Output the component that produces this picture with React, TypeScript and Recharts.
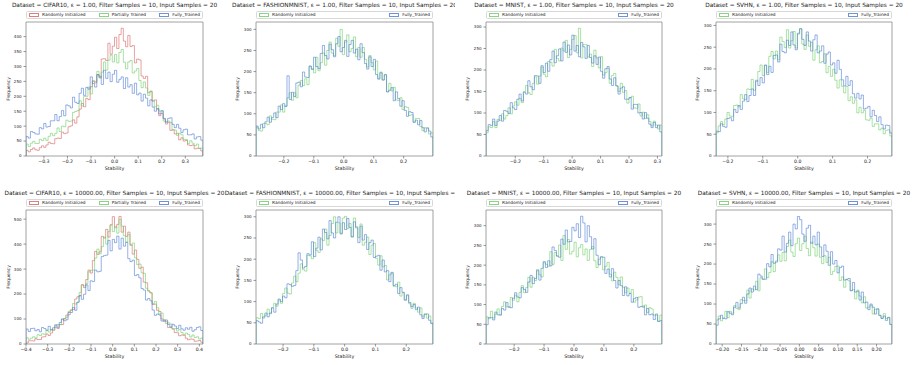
import React from "react";
import { LineChart, Line, XAxis, YAxis, ReferenceArea } from "recharts";

const FONT = "'DejaVu Sans', sans-serif";
const RED = "#d65f5f";
const GREEN = "#6acc64";
const BLUE = "#4878d0";

const NAMES = ["Randomly Initialized", "Partially Trained", "Fully_Trained"];

// bin counts, 80 equal bins spanning each subplot's x range
const cifarE1Random = [
  19, 14, 22, 27, 21, 19, 28, 34, 29, 37,
  46, 42, 41, 58, 60, 59, 80, 75, 77, 98,
  101, 121, 110, 131, 157, 176, 165, 193, 189, 232,
  252, 245, 272, 262, 325, 326, 320, 378, 341, 368,
  398, 360, 407, 428, 385, 366, 404, 367, 370, 312,
  325, 322, 268, 260, 267, 212, 216, 184, 188, 157,
  135, 143, 124, 107, 113, 86, 88, 74, 76, 54,
  61, 50, 52, 37, 35, 37, 24, 26, 25, 17,
];
const cifarE1Partial = [
  40, 32, 43, 49, 42, 42, 56, 52, 60, 52,
  66, 76, 68, 76, 94, 82, 100, 98, 120, 116,
  117, 146, 149, 152, 185, 168, 199, 200, 231, 208,
  250, 250, 284, 262, 281, 315, 288, 321, 338, 315,
  340, 312, 347, 357, 314, 292, 315, 320, 278, 285,
  293, 253, 229, 248, 228, 203, 218, 185, 165, 170,
  151, 152, 117, 116, 117, 112, 87, 87, 69, 76,
  71, 56, 55, 42, 51, 43, 34, 40, 26, 27,
];
const cifarE1Trained = [
  65, 60, 82, 79, 74, 73, 95, 91, 109, 97,
  99, 118, 118, 139, 118, 132, 152, 135, 171, 168,
  161, 197, 180, 176, 210, 227, 203, 230, 224, 265,
  243, 231, 273, 267, 240, 287, 260, 281, 249, 274,
  287, 247, 257, 265, 226, 262, 231, 239, 210, 244,
  205, 211, 184, 207, 194, 168, 188, 164, 150, 159,
  141, 151, 126, 113, 126, 128, 106, 95, 106, 93,
  79, 88, 90, 71, 71, 74, 57, 64, 65, 53,
];

const fashionE1Random = [
  68, 60, 59, 77, 77, 74, 95, 87, 86, 104,
  104, 121, 104, 119, 138, 150, 132, 150, 138, 168,
  179, 167, 183, 169, 213, 207, 197, 234, 202, 221,
  244, 215, 250, 270, 244, 238, 279, 260, 300, 240,
  270, 287, 247, 255, 282, 235, 257, 234, 257, 229,
  211, 238, 221, 204, 225, 184, 199, 180, 192, 152,
  172, 154, 163, 133, 131, 138, 110, 117, 115, 96,
  98, 80, 89, 89, 70, 60, 67, 67, 52, 55,
];
const fashionE1Trained = [
  71, 64, 75, 67, 81, 92, 80, 91, 102, 91,
  118, 110, 124, 117, 190, 134, 151, 141, 173, 175,
  164, 199, 187, 186, 213, 205, 234, 212, 207, 243,
  262, 238, 230, 265, 252, 235, 266, 283, 247, 257,
  274, 236, 264, 274, 244, 253, 228, 266, 245, 219,
  206, 235, 212, 229, 193, 182, 197, 180, 193, 152,
  156, 162, 131, 152, 136, 118, 131, 108, 94, 105,
  103, 80, 85, 74, 84, 67, 57, 66, 59, 45,
];

const mnistE1Random = [
  54, 68, 66, 80, 66, 85, 83, 98, 86, 94,
  112, 98, 116, 126, 118, 134, 124, 150, 164, 147,
  143, 169, 184, 167, 186, 207, 190, 184, 220, 218,
  209, 248, 227, 221, 251, 244, 269, 229, 248, 271,
  280, 240, 297, 228, 259, 259, 230, 237, 208, 246,
  228, 205, 231, 188, 194, 204, 169, 187, 192, 163,
  150, 169, 148, 152, 123, 135, 139, 112, 111, 121,
  93, 102, 87, 96, 80, 70, 81, 72, 63, 72,
];
const mnistE1Trained = [
  59, 73, 71, 86, 71, 81, 94, 81, 106, 104,
  99, 124, 112, 108, 132, 144, 128, 148, 144, 175,
  161, 154, 187, 186, 169, 210, 194, 216, 197, 224,
  244, 217, 233, 249, 221, 265, 241, 258, 235, 281,
  244, 257, 231, 264, 254, 227, 257, 229, 216, 233,
  213, 230, 197, 181, 203, 208, 179, 164, 182, 163,
  144, 158, 161, 132, 132, 136, 109, 120, 120, 100,
  101, 86, 101, 88, 74, 66, 78, 66, 72, 56,
];

const svhnE1Random = [
  53, 69, 79, 72, 85, 100, 92, 91, 116, 117,
  113, 141, 131, 130, 154, 153, 176, 151, 171, 194,
  209, 185, 208, 192, 229, 240, 223, 241, 221, 273,
  263, 249, 290, 248, 265, 286, 248, 280, 293, 257,
  245, 278, 252, 261, 220, 244, 253, 214, 217, 235,
  191, 206, 183, 199, 174, 156, 175, 160, 145, 160,
  127, 136, 121, 129, 99, 112, 99, 105, 83, 82,
  87, 68, 74, 74, 60, 64, 51, 59, 60, 46,
];
const svhnE1Trained = [
  57, 56, 74, 68, 66, 86, 88, 81, 107, 100,
  116, 107, 126, 141, 125, 139, 154, 139, 174, 162,
  180, 168, 209, 187, 206, 192, 231, 232, 216, 257,
  240, 237, 266, 254, 285, 255, 244, 282, 292, 268,
  254, 285, 264, 241, 267, 278, 237, 241, 253, 213,
  234, 239, 209, 214, 190, 220, 199, 175, 161, 183,
  162, 173, 143, 133, 144, 131, 140, 108, 110, 114,
  90, 105, 93, 79, 90, 72, 62, 71, 70, 53,
];

const cifarE4Random = [
  4, 13, 13, 12, 21, 18, 18, 28, 29, 40,
  34, 44, 56, 67, 62, 78, 78, 102, 116, 117,
  137, 138, 180, 189, 194, 238, 226, 258, 296, 284,
  334, 371, 359, 369, 431, 424, 459, 428, 477, 510,
  465, 479, 511, 448, 472, 431, 448, 397, 360, 376,
  339, 303, 308, 248, 245, 212, 205, 158, 160, 135,
  130, 100, 91, 89, 66, 66, 60, 46, 45, 33,
  36, 35, 23, 17, 20, 19, 11, 12, 14, 7,
];
const cifarE4Partial = [
  25, 19, 23, 29, 24, 37, 34, 41, 39, 55,
  48, 58, 55, 73, 78, 77, 100, 100, 107, 130,
  134, 162, 160, 168, 206, 235, 233, 243, 289, 295,
  296, 344, 380, 361, 390, 428, 400, 450, 477, 450,
  471, 444, 500, 472, 433, 408, 439, 395, 404, 345,
  318, 320, 285, 283, 223, 213, 205, 162, 170, 145,
  120, 124, 98, 82, 85, 80, 61, 62, 52, 58,
  46, 37, 44, 38, 28, 36, 26, 29, 20, 24,
];
const cifarE4Trained = [
  60, 50, 62, 63, 53, 58, 49, 66, 62, 55,
  71, 56, 65, 77, 67, 86, 100, 93, 97, 126,
  126, 146, 135, 167, 193, 179, 199, 237, 214, 253,
  250, 296, 289, 291, 350, 354, 356, 415, 373, 419,
  406, 432, 380, 424, 392, 407, 342, 330, 336, 274,
  278, 265, 222, 216, 176, 182, 173, 136, 115, 120,
  116, 92, 93, 96, 78, 68, 79, 72, 62, 75,
  61, 55, 65, 59, 67, 51, 57, 66, 69, 54,
];

const fashionE4Random = [
  62, 60, 72, 61, 68, 82, 71, 86, 96, 89,
  104, 96, 119, 132, 120, 118, 144, 160, 147, 167,
  189, 175, 172, 209, 208, 201, 239, 221, 216, 248,
  244, 271, 233, 256, 284, 300, 262, 286, 259, 297,
  301, 272, 284, 252, 297, 277, 251, 283, 233, 240,
  252, 211, 233, 237, 202, 186, 208, 182, 185, 151,
  163, 167, 136, 135, 146, 113, 121, 105, 114, 95,
  84, 96, 85, 75, 85, 64, 71, 61, 66, 48,
];
const fashionE4Trained = [
  55, 52, 49, 64, 73, 64, 73, 85, 75, 94,
  106, 100, 113, 109, 142, 140, 136, 138, 173, 215,
  198, 179, 183, 213, 210, 241, 206, 226, 252, 222,
  271, 263, 248, 291, 262, 250, 287, 300, 261, 286,
  270, 296, 275, 253, 288, 274, 239, 278, 245, 258,
  223, 239, 245, 204, 207, 209, 174, 198, 170, 173,
  147, 169, 138, 141, 119, 133, 122, 103, 116, 98,
  88, 93, 81, 87, 69, 60, 70, 71, 56, 49,
];

const mnistE4Random = [
  69, 64, 83, 66, 76, 89, 75, 95, 107, 94,
  93, 118, 111, 124, 107, 131, 148, 130, 143, 169,
  144, 169, 161, 189, 176, 170, 206, 202, 197, 234,
  202, 232, 223, 251, 212, 275, 240, 265, 228, 235,
  258, 221, 244, 252, 226, 241, 212, 240, 247, 211,
  194, 215, 221, 188, 197, 207, 177, 160, 182, 169,
  150, 170, 144, 130, 142, 129, 138, 106, 112, 119,
  120, 93, 99, 80, 92, 89, 73, 73, 58, 73,
];
const mnistE4Trained = [
  49, 67, 67, 61, 81, 74, 73, 90, 86, 105,
  94, 92, 116, 130, 119, 117, 143, 138, 131, 157,
  174, 153, 166, 186, 162, 192, 209, 194, 211, 198,
  246, 237, 223, 220, 266, 253, 289, 259, 260, 296,
  287, 305, 270, 324, 307, 259, 300, 272, 241, 267,
  225, 201, 221, 220, 179, 190, 170, 191, 161, 142,
  161, 148, 123, 145, 122, 128, 106, 115, 118, 93,
  95, 96, 74, 90, 74, 76, 62, 76, 57, 59,
];

const svhnE4Random = [
  60, 70, 58, 65, 82, 66, 82, 77, 96, 89,
  86, 111, 109, 108, 135, 115, 138, 135, 157, 133,
  166, 162, 188, 166, 179, 206, 181, 208, 223, 207,
  229, 208, 244, 260, 230, 219, 251, 265, 234, 251,
  270, 239, 221, 255, 241, 220, 250, 217, 201, 221,
  204, 217, 174, 182, 194, 195, 159, 168, 142, 161,
  158, 134, 136, 113, 135, 120, 103, 118, 90, 92,
  97, 75, 87, 89, 71, 64, 76, 64, 67, 49,
];
const svhnE4Trained = [
  47, 63, 72, 64, 63, 81, 77, 73, 92, 104,
  90, 101, 117, 102, 125, 140, 130, 145, 136, 175,
  170, 162, 162, 201, 193, 224, 202, 205, 238, 235,
  270, 230, 252, 280, 246, 300, 288, 319, 311, 275,
  257, 290, 297, 252, 270, 248, 280, 243, 219, 248,
  232, 197, 231, 200, 209, 178, 191, 195, 160, 162,
  164, 133, 154, 130, 132, 110, 130, 103, 105, 86,
  100, 92, 75, 87, 72, 64, 70, 59, 66, 49,
];

// axis ticks
const xTicksCifarE1 = [-0.3, -0.2, -0.1, 0, 0.1, 0.2, 0.3];
const xTicksMid = [-0.2, -0.1, 0, 0.1, 0.2];
const xTicksMnistE1 = [-0.2, -0.1, 0, 0.1, 0.2, 0.3];
const xTicksCifarE4 = [-0.4, -0.3, -0.2, -0.1, 0, 0.1, 0.2, 0.3, 0.4];
const xTicksSvhnE4 = [-0.2, -0.15, -0.1, -0.05, 0, 0.05, 0.1, 0.15, 0.2];
const yTicks400 = [0, 50, 100, 150, 200, 250, 300, 350, 400];
const yTicks300 = [0, 50, 100, 150, 200, 250, 300];
const yTicks500 = [0, 100, 200, 300, 400, 500];

const BOX_X = [0, 226, 455, 685, 917];
const PLOT_X = [
  [26, 203],
  [256, 433],
  [486, 662],
  [716, 892],
];
const YLABEL_X = [9, 238.3, 467.7, 697.7];
const ROWS = [
  { top: 0, height: 180, titleY: 6, legendTop: 11, plotTop: 22, plotBottom: 156, labelY: 168.5 },
  { top: 180, height: 185, titleY: 193.7, legendTop: 199, plotTop: 210, plotBottom: 344, labelY: 356.7 },
];

type Series = { name: string; color: string; counts: number[] };
type Panel = {
  row: number;
  col: number;
  title: string;
  lo: number;
  hi: number;
  yMax: number;
  xTicks: number[];
  yTicks: number[];
  digits: number;
  series: Series[];
};

const three = (r: number[], p: number[], t: number[]): Series[] => [
  { name: NAMES[0], color: RED, counts: r },
  { name: NAMES[1], color: GREEN, counts: p },
  { name: NAMES[2], color: BLUE, counts: t },
];
const two = (r: number[], t: number[]): Series[] => [
  { name: NAMES[0], color: GREEN, counts: r },
  { name: NAMES[2], color: BLUE, counts: t },
];

const title = (ds: string, eps: string) =>
  `Dataset = ${ds}, \u03b5 = ${eps}, Filter Samples = 10, Input Samples = 20`;

const PANELS: Panel[] = [
  { row: 0, col: 0, title: title("CIFAR10", "1.00"), lo: -0.376, hi: 0.375, yMax: 449, xTicks: xTicksCifarE1, yTicks: yTicks400, digits: 1, series: three(cifarE1Random, cifarE1Partial, cifarE1Trained) },
  { row: 0, col: 1, title: title("FASHIONMNIST", "1.00"), lo: -0.293, hi: 0.298, yMax: 317.5, xTicks: xTicksMid, yTicks: yTicks300, digits: 1, series: two(fashionE1Random, fashionE1Trained) },
  { row: 0, col: 2, title: title("MNIST", "1.00"), lo: -0.303, hi: 0.316, yMax: 311.6, xTicks: xTicksMnistE1, yTicks: yTicks300, digits: 1, series: two(mnistE1Random, mnistE1Trained) },
  { row: 0, col: 3, title: title("SVHN", "1.00"), lo: -0.234, hi: 0.27, yMax: 307.8, xTicks: xTicksMid, yTicks: yTicks300, digits: 1, series: two(svhnE1Random, svhnE1Trained) },
  { row: 1, col: 0, title: title("CIFAR10", "10000.00"), lo: -0.4, hi: 0.417, yMax: 536.6, xTicks: xTicksCifarE4, yTicks: yTicks500, digits: 1, series: three(cifarE4Random, cifarE4Partial, cifarE4Trained) },
  { row: 1, col: 1, title: title("FASHIONMNIST", "10000.00"), lo: -0.288, hi: 0.287, yMax: 316, xTicks: xTicksMid, yTicks: yTicks300, digits: 1, series: two(fashionE4Random, fashionE4Trained) },
  { row: 1, col: 2, title: title("MNIST", "10000.00"), lo: -0.294, hi: 0.294, yMax: 339.8, xTicks: xTicksMid, yTicks: yTicks300, digits: 1, series: two(mnistE4Random, mnistE4Trained) },
  { row: 1, col: 3, title: title("SVHN", "10000.00"), lo: -0.216, hi: 0.24, yMax: 335.3, xTicks: xTicksSvhnE4, yTicks: yTicks300, digits: 2, series: two(svhnE4Random, svhnE4Trained) },
];

// step outline rows: closed at both ends down to zero like a step histogram
function buildRows(p: Panel) {
  const n = p.series[0].counts.length;
  const w = (p.hi - p.lo) / n;
  const rows: Record<string, number>[] = [];
  const row = (x: number, pick: (c: number[]) => number) => {
    const r: Record<string, number> = { x };
    p.series.forEach((s, k) => (r[`s${k}`] = pick(s.counts)));
    rows.push(r);
  };
  row(p.lo, () => 0);
  for (let i = 0; i < n; i++) row(p.lo + i * w, (c) => c[i]);
  row(p.hi, (c) => c[n - 1]);
  row(p.hi, () => 0);
  return rows;
}

const fmtX = (digits: number) => (v: number) => {
  const s = Math.abs(v).toFixed(digits);
  return v < -1e-9 ? `\u2212${s}` : s;
};

const tickStyle = { fontSize: 4.6, fill: "#222", fontFamily: FONT };

function Subplot({ p }: { p: Panel }) {
  const r = ROWS[p.row];
  const boxLeft = BOX_X[p.col];
  const [x0, x1] = PLOT_X[p.col];
  const w = x1 - x0;
  const h = r.plotBottom - r.plotTop;
  const cx = (x0 + x1) / 2 - boxLeft;
  const rows = buildRows(p);

  return (
    <div
      style={{
        position: "absolute",
        left: boxLeft,
        top: r.top,
        width: BOX_X[p.col + 1] - boxLeft,
        height: r.height,
        background: "#fff",
        fontFamily: FONT,
        color: "#222",
      }}
    >
      <div
        style={{
          position: "absolute",
          left: cx,
          top: r.titleY - r.top,
          transform: "translate(-50%, -50%)",
          whiteSpace: "nowrap",
          fontSize: 5.8,
          lineHeight: 1,
        }}
      >
        {p.title}
      </div>

      <div
        style={{
          position: "absolute",
          left: x0 - boxLeft,
          top: r.legendTop - r.top,
          width: w,
          height: 8,
          boxSizing: "border-box",
          border: "1px solid #d8d8d8",
          borderRadius: 1.5,
          display: "flex",
          alignItems: "center",
          justifyContent: "space-between",
          padding: "0 2px",
          fontSize: 4.3,
          lineHeight: 1,
        }}
      >
        {p.series.map((s) => (
          <div key={s.name} style={{ display: "flex", alignItems: "center", whiteSpace: "nowrap" }}>
            <span
              style={{
                display: "inline-block",
                width: 10,
                height: 3.4,
                boxSizing: "border-box",
                border: `1px solid ${s.color}`,
                opacity: 0.8,
                marginRight: 3,
              }}
            />
            {s.name}
          </div>
        ))}
      </div>

      <div
        style={{
          position: "absolute",
          left: YLABEL_X[p.col] - boxLeft,
          top: (r.plotTop + r.plotBottom) / 2 - r.top,
          transform: "translate(-50%, -50%) rotate(-90deg)",
          whiteSpace: "nowrap",
          fontSize: 4.6,
          lineHeight: 1,
        }}
      >
        Frequency
      </div>

      <div
        style={{
          position: "absolute",
          left: cx,
          top: r.labelY - r.top,
          transform: "translate(-50%, -50%)",
          whiteSpace: "nowrap",
          fontSize: 4.8,
          lineHeight: 1,
        }}
      >
        Stability
      </div>

      <div style={{ position: "absolute", left: x0 - 30 - boxLeft, top: r.plotTop - 4 - r.top }}>
        <LineChart
          width={w + 36}
          height={h + 28}
          data={rows}
          margin={{ top: 4, right: 6, bottom: 0, left: 0 }}
        >
          <XAxis
            type="number"
            dataKey="x"
            domain={[p.lo, p.hi]}
            allowDataOverflow
            ticks={p.xTicks}
            interval={0}
            tickFormatter={fmtX(p.digits)}
            tick={tickStyle}
            tickSize={2.5}
            tickMargin={1.5}
            tickLine={{ stroke: "#555", strokeWidth: 0.6 }}
            axisLine={false}
            height={24}
          />
          <YAxis
            type="number"
            domain={[0, p.yMax]}
            allowDataOverflow
            ticks={p.yTicks}
            interval={0}
            tick={{ ...tickStyle, fontSize: 4.0 }}
            tickSize={2.5}
            tickMargin={2}
            tickLine={{ stroke: "#555", strokeWidth: 0.6 }}
            axisLine={false}
            width={30}
          />
          {p.series.map((s, k) => (
            <Line
              key={s.name}
              type="stepAfter"
              dataKey={`s${k}`}
              stroke={s.color}
              strokeOpacity={0.72}
              strokeWidth={0.8}
              dot={false}
              activeDot={false}
              isAnimationActive={false}
            />
          ))}
          <ReferenceArea
            x1={p.lo}
            x2={p.hi}
            y1={0}
            y2={p.yMax}
            fill="none"
            stroke="#8a8a8a"
            strokeWidth={0.8}
          />
        </LineChart>
      </div>
    </div>
  );
}

export default function App() {
  return (
    <div
      style={{
        position: "absolute",
        left: 0,
        top: 0,
        width: 917,
        height: 365,
        background: "#fff",
        overflow: "hidden",
      }}
    >
      {PANELS.map((p) => (
        <Subplot key={`${p.row}-${p.col}`} p={p} />
      ))}
    </div>
  );
}
